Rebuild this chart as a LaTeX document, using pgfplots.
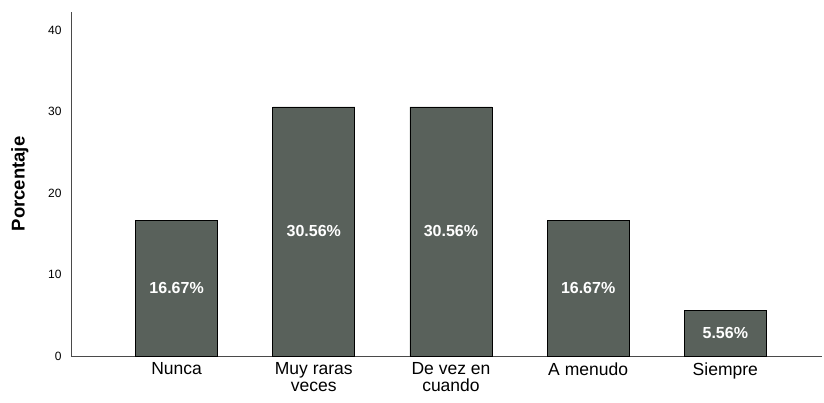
\documentclass[border=0pt]{standalone}
\usepackage{fontspec}
\setmainfont{Liberation Sans}
\usepackage{pgfplots}
\usepackage{pgfplotstable}
\pgfplotsset{compat=1.18}
\definecolor{barc}{HTML}{59615B}
\definecolor{axc}{HTML}{4A4A4A}
\pgfplotstableread{
x y
0 16.67
1 30.56
2 30.56
3 16.67
4 5.56
}\data
\begin{document}
\begin{tikzpicture}
\begin{axis}[name=ax,
  scale only axis, width=751pt, height=344pt,
  xmin=-0.77, xmax=4.705, ymin=0, ymax=42.2,
  axis x line*=bottom, axis y line*=left,
  axis line style={-, draw=axc, line width=0.8pt},
  major tick length=0pt,
  xtick=data,
  xticklabels={Nunca,{Muy raras\\veces},{De vez en\\cuando},A menudo,Siempre},
  xticklabel style={align=center, font=\fontsize{17.5}{17}\selectfont, anchor=north, yshift=-3pt},
  ytick={0,10,20,30,40},
  yticklabel style={font=\fontsize{12}{12}\selectfont, xshift=-6pt},
  /pgf/number format/assume math mode=true,
  ylabel={\textbf{Porcentaje}},
  ylabel style={at={(axis description cs:-0.068,0.5)}, anchor=center, font=\fontsize{18.5}{18.5}\selectfont},
  clip=false,
]
\addplot[ybar, bar width=82pt, fill=barc, draw=black, line width=0.6pt] table[x=x,y=y]{\data};
\addplot[only marks, mark=none, point meta=explicit,
  nodes near coords={\pgfmathprintnumber[fixed,precision=2,fixed zerofill]{\pgfplotspointmeta}\%},
  nodes near coords align=center,
  every node near coord/.append style={anchor=center, text=white, font=\bfseries\fontsize{16}{16}\selectfont, /pgf/number format/assume math mode=true}]
  table[x=x, y expr=\thisrow{y}/2, meta=y]{\data};
\end{axis}
\pgfresetboundingbox
\path ([xshift=-71pt,yshift=-46pt]ax.south west) rectangle ++(824pt,402pt);
\end{tikzpicture}
\end{document}
